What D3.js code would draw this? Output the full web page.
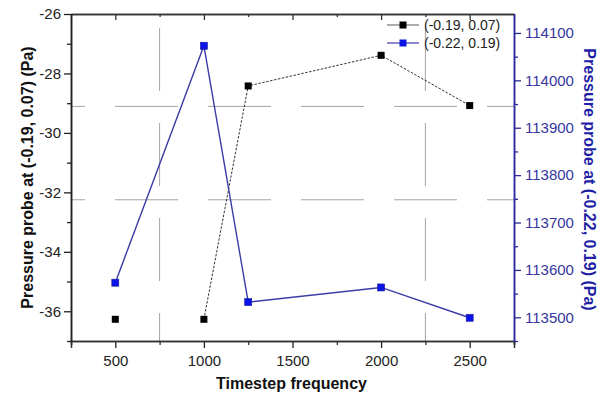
<!DOCTYPE html>
<html>
<head>
<meta charset="utf-8">
<script src="https://cdn.jsdelivr.net/npm/d3@7"></script>
<style>
	body { margin: 0; background: #fff; }
	svg { display: block; font-family: "Liberation Sans", Arial, sans-serif; }
</style>
</head>
<body>
<svg id="chart" width="602" height="396"></svg>
<script>
// data
var timesteps = [500, 1000, 1250, 2000, 2500];
var probeA = [-36.27, -36.27, -28.42, -27.39, -29.08];          // (-0.19, 0.07), left axis
var probeB = [113573, 114073, 113532, 113563, 113499];          // (-0.22, 0.19), right axis
var seriesNames = ["(-0.19, 0.07)", "(-0.22, 0.19)"];

var xTicks = [500, 1000, 1500, 2000, 2500];
var xMinor = [250, 750, 1250, 1750, 2250, 2750];
var leftTicks = [-36, -34, -32, -30, -28, -26];
var leftMinorTicks = [-37, -35, -33, -31, -29, -27];
var rightTicks = [113500, 113600, 113700, 113800, 113900, 114000, 114100];
var rightMinorTicks = [113450, 113550, 113650, 113750, 113850, 113950, 114050];
var gridX = [750, 2250];
var gridY = [113945, 113748];   // in right axis units

var margin = {top: 14, right: 88, bottom: 55, left: 71},
	width = 602 - margin.left - margin.right,
	height = 396 - margin.top - margin.bottom;

var blueAxis = "#2a2a9c",
	blueLine = "#3b3ba8",
	blueMark = "#0a14e6";

// plain hyphen for negative numbers, like the source
var plain = function(d) { return String(d); };

var svg = d3.select("#chart");
var g = svg.append("g").attr("transform", "translate(" + margin.left + "," + margin.top + ")");

var x = d3.scaleLinear().domain([250, 2750]).range([0, width]);
var yL = d3.scaleLinear().domain([-37, -26]).range([height, 0]);
var yR = d3.scaleLinear().domain([113450, 114140]).range([height, 0]);

// broken dashed grid lines
g.selectAll(".gridx").data(gridX).enter().append("line")
	.attr("x1", function(d) { return x(d); })
	.attr("x2", function(d) { return x(d); })
	.attr("y1", 0).attr("y2", height)
	.attr("stroke", "#a4a4a4").attr("stroke-width", 1)
	.attr("stroke-dasharray", "63,32").attr("stroke-dashoffset", 81);
g.selectAll(".gridy").data(gridY).enter().append("line")
	.attr("x1", 0).attr("x2", width)
	.attr("y1", function(d) { return yR(d); })
	.attr("y2", function(d) { return yR(d); })
	.attr("stroke", "#a4a4a4").attr("stroke-width", 1)
	.attr("stroke-dasharray", "63,30").attr("stroke-dashoffset", 49);

function styleAxis(sel, color, size) {
	sel.selectAll("path").attr("stroke", color).attr("stroke-width", 1.5);
	sel.selectAll("line").attr("stroke", color).attr("stroke-width", 1.3);
	sel.selectAll("text").attr("fill", color).style("font-size", size + "px");
}

// bottom axis
var bottomAxis = g.append("g").attr("transform", "translate(0," + height + ")")
	.call(d3.axisBottom(x).tickValues(xTicks).tickSize(7).tickPadding(7).tickFormat(plain));
styleAxis(bottomAxis, "#222", 15);
bottomAxis.select("path").attr("stroke", "#333");
var bottomMinor = g.append("g").attr("transform", "translate(0," + height + ")")
	.call(d3.axisBottom(x).tickValues(xMinor).tickSize(4).tickFormat(""));
styleAxis(bottomMinor, "#333", 15);

// top axis (mirror, ticks inward)
var topAxis = g.append("g")
	.call(d3.axisBottom(x).tickValues(xTicks).tickSize(6).tickFormat("").tickSizeOuter(0));
styleAxis(topAxis, "#333", 15);
var topMinor = g.append("g")
	.call(d3.axisBottom(x).tickValues(xMinor).tickSize(3).tickFormat("").tickSizeOuter(0));
styleAxis(topMinor, "#333", 15);

// left axis
var leftAxis = g.append("g")
	.call(d3.axisLeft(yL).tickValues(leftTicks).tickSize(7).tickPadding(3).tickSizeOuter(0).tickFormat(plain));
styleAxis(leftAxis, "#222", 15);
leftAxis.select("path").attr("stroke", "#111");
var leftMinor = g.append("g")
	.call(d3.axisLeft(yL).tickValues(leftMinorTicks).tickSize(4).tickFormat("").tickSizeOuter(0));
styleAxis(leftMinor, "#222", 15);

// right axis
var rightAxis = g.append("g").attr("transform", "translate(" + width + ",0)")
	.call(d3.axisRight(yR).tickValues(rightTicks).tickSize(7).tickPadding(4).tickFormat(plain).tickSizeOuter(0));
styleAxis(rightAxis, blueAxis, 15);
rightAxis.selectAll("text").attr("fill", "#3636a0");
var rightMinor = g.append("g").attr("transform", "translate(" + width + ",0)")
	.call(d3.axisRight(yR).tickValues(rightMinorTicks).tickSize(4).tickFormat("").tickSizeOuter(0));
styleAxis(rightMinor, blueAxis, 15);

// axis titles
svg.append("text")
	.attr("transform", "translate(27," + (margin.top + height / 2) + ") rotate(-90)")
	.attr("text-anchor", "middle").attr("dy", "0.35em")
	.style("font-size", "16px").style("font-weight", "bold").attr("fill", "#111")
	.text("Pressure probe at (-0.19, 0.07) (Pa)");
svg.append("text")
	.attr("transform", "translate(590," + (margin.top + height / 2 + 2) + ") rotate(90)")
	.attr("text-anchor", "middle").attr("dy", "0.35em")
	.style("font-size", "16px").style("font-weight", "bold").attr("fill", "#1f1fa6")
	.text("Pressure probe at (-0.22, 0.19) (Pa)");
svg.append("text")
	.attr("x", margin.left + x(1500) - 1).attr("y", 389)
	.attr("text-anchor", "middle")
	.style("font-size", "16px").style("font-weight", "bold").attr("fill", "#111")
	.text("Timestep frequency");

// series
var lineA = d3.line()
	// the first black segment (500 -> 1000) is not drawn in the source
	.defined(function(d, i) { return i > 0; })
	.x(function(d, i) { return x(timesteps[i]); })
	.y(function(d) { return yL(d); });
var lineB = d3.line()
	.x(function(d, i) { return x(timesteps[i]); })
	.y(function(d) { return yR(d); });

g.append("path").datum(probeA).attr("d", lineA)
	.attr("fill", "none").attr("stroke", "#333").attr("stroke-width", 1)
	.attr("stroke-dasharray", "2.5,1.5");
g.append("path").datum(probeB).attr("d", lineB)
	.attr("fill", "none").attr("stroke", blueLine).attr("stroke-width", 1.4);

var ms = 7;
g.selectAll(".markA").data(probeA).enter().append("rect")
	.attr("x", function(d, i) { return x(timesteps[i]) - ms / 2; })
	.attr("y", function(d) { return yL(d) - ms / 2; })
	.attr("width", ms).attr("height", ms)
	.attr("fill", "#000");
g.selectAll(".markB").data(probeB).enter().append("rect")
	.attr("x", function(d, i) { return x(timesteps[i]) - ms / 2; })
	.attr("y", function(d) { return yR(d) - ms / 2; })
	.attr("width", ms).attr("height", ms)
	.attr("fill", blueMark).attr("stroke", "#1a1a9a").attr("stroke-width", 0.6);

// legend
var legend = svg.append("g");
var legendRows = [
	{name: seriesNames[0], line: "#777", mark: "#000", y: 25},
	{name: seriesNames[1], line: blueLine, mark: blueMark, y: 43}
];
legendRows.forEach(function(r) {
	legend.append("line")
		.attr("x1", 387).attr("x2", 419).attr("y1", r.y).attr("y2", r.y)
		.attr("stroke", r.line).attr("stroke-width", 1.2);
	legend.append("rect")
		.attr("x", 403 - ms / 2).attr("y", r.y - ms / 2)
		.attr("width", ms).attr("height", ms).attr("fill", r.mark);
	legend.append("text")
		.attr("x", 424).attr("y", r.y).attr("dy", "0.35em")
		.style("font-size", "14px").attr("fill", "#222")
		.text(r.name);
});
</script>
</body>
</html>
